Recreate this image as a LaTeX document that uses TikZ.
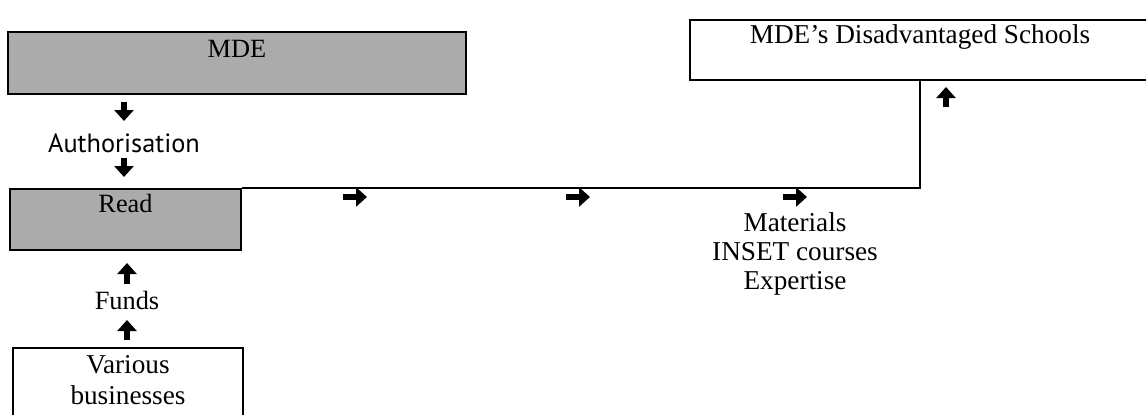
\documentclass[tikz,border=0pt]{standalone}
\usepackage{fontspec}
\setmainfont{Liberation Serif}
\newfontfamily\authfont{PT Sans}
\usetikzlibrary{arrows.meta}

\begin{document}
\begin{tikzpicture}[
  x=0.02cm, y=-0.02cm,
  font=\fontsize{15}{15}\selectfont,
  shaded/.style={
    draw=black,
    line width=1.1pt,
    fill=black!33,
    inner sep=0pt
  },
  plain/.style={
    draw=black,
    line width=1.1pt,
    fill=white,
    inner sep=0pt
  },
  bigarrow/.style={-{Triangle[length=0.22cm,width=0.38cm]}, line width=3.2pt},
  link/.style={line width=1.1pt}
]
  \useasboundingbox (0,0) rectangle (1146,414);

  \node[shaded, minimum width=9.16cm, minimum height=1.24cm,
        text height=0.5cm, text depth=0.74cm] (mde) at (237,63) {MDE};
  \node[font=\authfont\fontsize{15}{15}\selectfont] (auth) at (124,143) {Authorisation};
  \node[shaded, minimum width=4.62cm, minimum height=1.22cm,
        text height=0.46cm, text depth=0.76cm] (read) at (125.5,219.5) {Read};
  \node (funds) at (127,300) {Funds};
  \node[plain, minimum width=4.6cm, minimum height=1.7cm, anchor=north] (biz) at (128,347) {};
  \node[align=center, font=\fontsize{15.5}{18}\selectfont] (biztext) at (128,380) {Various\\businesses};

  \node[plain, minimum width=9.2cm, minimum height=1.2cm,
        text height=0.46cm, text depth=0.74cm, font=\fontsize{15.5}{15.5}\selectfont] (schools) at (920,50) {MDE’s Disadvantaged Schools};
  \node[align=center, font=\fontsize{15.5}{16.5}\selectfont] (inputs) at (795,254) {Materials\\INSET courses\\Expertise};

  \draw[link] (read.north east) -| (schools.south);

  % arrow marks
  \draw[bigarrow] (124,102) -- (124,121);
  \draw[bigarrow] (124,158) -- (124,177);
  \draw[bigarrow] (127,284) -- (127,263);
  \draw[bigarrow] (127,340) -- (127,320);
  \draw[bigarrow] (946,107) -- (946,87);
  \foreach \x in {355,578,795}
    \draw[bigarrow] (\x-12,197) -- (\x+12,197);
\end{tikzpicture}
\end{document}
